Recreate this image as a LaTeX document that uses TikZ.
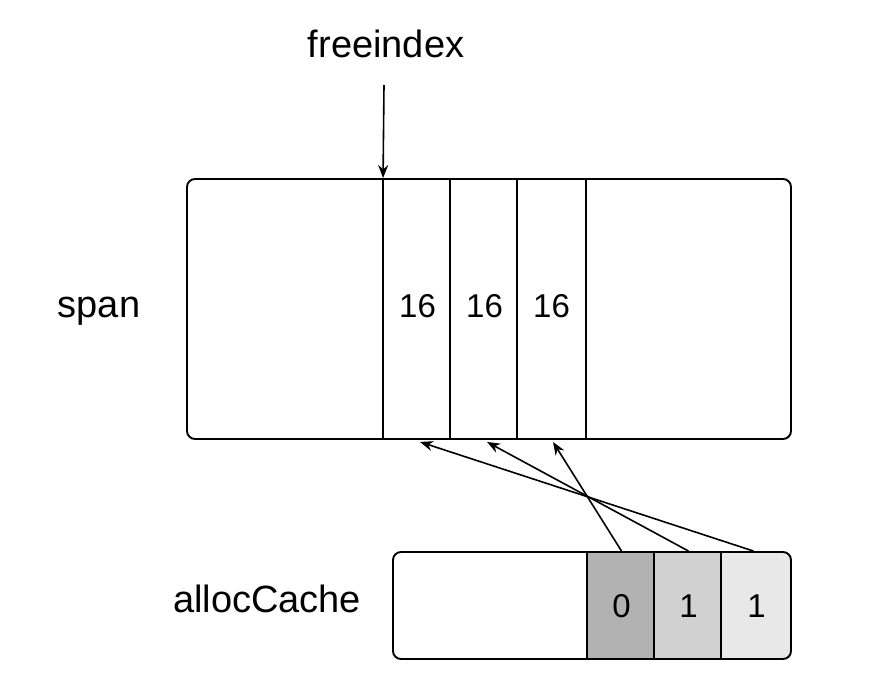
\documentclass[tikz,border=0pt]{standalone}
\usepackage{fontspec}
\setmainfont{Liberation Sans}
\usetikzlibrary{arrows.meta,calc}
\begin{document}
\begin{tikzpicture}[x=1pt,y=-1pt,
  line width=1.9pt,
  bigtext/.style={font=\fontsize{38}{45}\selectfont, inner sep=0pt, anchor=base},
  numtext/.style={font=\fontsize{33}{40}\selectfont, inner sep=0pt, anchor=base},
  frame/.style={draw, rounded corners=8pt, inner sep=0pt},
  cell/.style={inner sep=0pt, minimum width=67pt},
  arr/.style={-{Stealth[length=13pt,width=10pt]}, line width=1.6pt}]
\useasboundingbox (0,0) rectangle (872,690);
% span
\node[frame, minimum width=604pt, minimum height=260pt] (span) at (489,309) {};
\node[cell, minimum height=260pt] (c1) at (417.5,309) {};
\node[cell, minimum height=260pt] (c2) at (484.5,309) {};
\node[cell, minimum height=260pt] (c3) at (551.5,309) {};
\draw (c1.north west) -- (c1.south west);
\draw (c2.north west) -- (c2.south west);
\draw (c3.north west) -- (c3.south west);
\draw (c3.north east) -- (c3.south east);
\node[numtext] (n1) at (417.5,317) {16};
\node[numtext] (n2) at (484.5,317) {16};
\node[numtext] (n3) at (551.5,317) {16};
\node[bigtext] (spanlbl) at (99,317) {span};
% freeindex
\node[bigtext] (fi) at (386,58) {freeindex};
\coordinate (fistart) at (384,85);
\draw[arr] (fistart) -- (c1.north west);
% allocCache
\begin{scope}
\clip[rounded corners=8pt] (393,552) rectangle (791,659);
\fill[black!30] (588,552) rectangle (655,659);
\fill[black!18] (655,552) rectangle (722,659);
\fill[black!9] (722,552) rectangle (791,659);
\end{scope}
\node[frame, minimum width=398pt, minimum height=107pt] (cache) at (592,605.5) {};
\node[cell, minimum height=107pt] (a) at (621.5,605.5) {};
\node[cell, minimum height=107pt] (b) at (688.5,605.5) {};
\node[cell, minimum width=69pt, minimum height=107pt] (c) at (756.5,605.5) {};
\draw (a.north west) -- (a.south west);
\draw (b.north west) -- (b.south west);
\draw (c.north west) -- (c.south west);
\node[numtext] (m1) at (621.5,617) {0};
\node[numtext] (m2) at (688.5,617) {1};
\node[numtext] (m3) at (756.5,617) {1};
\node[bigtext] (cachelbl) at (267,612) {allocCache};
% arrows
\draw[arr] (a.north) -- ($(c3.south)+(1.5,2)$);
\draw[arr] (b.north) -- ($(c2.south)+(2.5,2)$);
\draw[arr] ($(c.north)+(-3,0)$) -- ($(c1.south)+(2.5,2)$);
\end{tikzpicture}
\end{document}
